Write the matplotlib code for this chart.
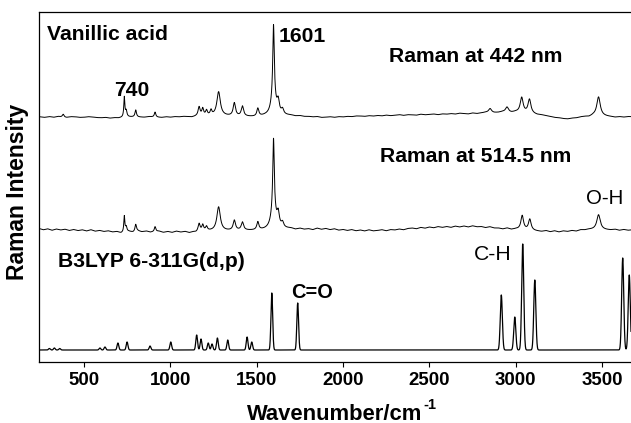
import numpy as np
import matplotlib
matplotlib.use("Agg")
import matplotlib.pyplot as plt

plt.rcParams['font.family'] = ['Liberation Sans', 'DejaVu Sans']

# ---------------- data ----------------
# peaks: centre (cm-1), height, half width
raman442_centres = [380, 734, 745, 800, 912, 1167, 1188, 1210, 1236, 1280, 1371, 1418, 1507,
                    1598, 1598, 1625, 1650, 2852, 2950, 3035, 3080, 3480]
raman442_heights = [3, 20, 6, 7, 5, 9, 7, 5, 5, 24, 13, 10, 8,
                    70, 20, 12, 5, 4, 5, 15, 14, 19]
raman442_widths = [6, 3.5, 5, 5, 5, 7, 6, 6, 6, 12, 8, 8, 7,
                   5, 15, 8, 8, 10, 10, 10, 10, 12]
raman442_base_wn = [240, 270, 300, 325, 350, 375, 400, 425, 450, 475, 500, 525, 550, 575, 600,
                    625, 650, 675, 700, 750, 800, 850, 875, 900, 950, 975,
                    1000, 1025, 1050, 1075, 1100, 1125, 1150, 1200, 1300, 1400, 1500, 1550,
                    1700, 1725, 1750, 1775, 1800, 1825, 1850, 1875, 1900, 1925, 1950, 1975,
                    2000, 2025, 2050, 2075, 2100, 2125, 2150, 2175, 2200, 2225, 2250, 2275,
                    2300, 2325, 2350, 2375, 2400, 2425, 2450, 2475, 2500, 2525, 2550, 2575,
                    2600, 2625, 2650, 2675, 2700, 2725, 2750, 2775, 2800, 2825, 2875, 2900,
                    2925, 2975, 3000, 3100, 3125, 3150, 3175, 3200, 3225, 3250, 3275, 3300,
                    3325, 3350, 3375, 3400, 3425, 3450, 3525, 3550, 3575, 3600, 3625, 3650, 3668]
raman442_base = [0.3, -0.4, 0.4, -0.3, 0.6, -0.2, -0.5, 0.3, 0.2, -0.4, -0.3, 0.3, 0, -0.6, -0.8,
                 -0.4, -1.2, -0.7, -1, 0, 0, -0.3, 0.4, 0, -0.5, 0.2,
                 -0.3, 0.3, 0, 0.5, 0.2, -0.2, 0.5, 1, 1, 0.5, 0, 1,
                 1.5, 0.8, 1.2, 0.4, 0.5, 0.0, 0.4, -0.5, -0.3, 0.2, -0.4, 0.3,
                 0, 0.6, 0.3, 1.0, 1, 0.6, 1.3, 0.9, 1.5, 1.1, 1.9, 1.3,
                 1.8, 2.4, 1.6, 2.3, 2.2, 1.8, 2.8, 2.2, 2.5, 3.0, 2.3, 3.1,
                 2.8, 3.4, 2.9, 3.8, 3.5, 3.0, 4.0, 3.4, 4.0, 4.6, 4.2, 4.5,
                 5.2, 4.4, 5, 3, 2.2, 2, 1.2, 0.5, -0.5, -0.8, -1.6, -2,
                 -1.2, -1, 0, 0.5, 0.2, 1.5, 0.6, 0.3, -0.3, 0.3, -0.2, 0.4, 0.3]

raman514_centres = [734, 745, 800, 912, 1167, 1188, 1210, 1280, 1371, 1418, 1507,
                    1598, 1598, 1625, 1650, 3038, 3082, 3480]
raman514_heights = [16, 5, 7, 5, 8, 6, 4, 24, 10, 8, 8,
                    70, 20, 13, 5, 14, 11, 15]
raman514_widths = [3.5, 5, 5, 5, 7, 6, 6, 12, 8, 8, 7,
                   5, 16, 8, 8, 9, 9, 12]
raman514_base_wn = [240, 265, 290, 315, 340, 365, 390, 415, 440, 465, 490, 515, 540, 565, 590,
                    615, 640, 665, 690, 715, 760, 785, 810, 835, 860, 885, 935, 960, 985,
                    1010, 1035, 1060, 1085, 1110, 1135, 1150, 1200, 1300, 1400, 1500,
                    1700, 1725, 1750, 1775, 1800, 1825, 1850, 1875, 1900, 1925, 1950, 1975,
                    2000, 2025, 2050, 2075, 2100, 2125, 2150, 2175, 2200, 2225, 2250, 2275,
                    2300, 2325, 2350, 2375, 2400, 2425, 2450, 2475, 2500, 2525, 2550, 2575,
                    2600, 2625, 2650, 2675, 2700, 2725, 2750, 2775, 2800, 2825, 2850, 2875,
                    2900, 2925, 2950, 2975, 3000, 3150, 3175, 3200, 3225, 3250, 3275, 3300,
                    3325, 3350, 3375, 3400, 3425, 3550, 3575, 3600, 3625, 3650, 3668]
raman514_base = [1.5, 0.2, 1.2, -0.3, 1, 0, 0.8, -0.5, 0.5, -0.6, 0.2, -1, 0.3, -1.2, -0.4,
                 -1.5, -0.8, -2, -1.5, -3, -1.5, -2.2, -0.8, -1.8, -1, -2.2, -1.2, -2.4, -1.5,
                 -2.5, -1.2, -2.2, -1.5, -2.8, -2, -2.5, -1, -1, -0.5, -0.5,
                 1.5, 0.5, 1.6, 0.6, 1.2, 0.2, 1.8, 0.6, 1.5, 0.3, 1.2, -0.2,
                 0.5, -0.5, 0.4, -0.8, 0, -1, 0.2, -0.9, -0.5, 0.3, -0.8, 0.4,
                 0, 1.0, 0.2, 1.5, 2, 1.2, 2.6, 1.8, 3, 2.2, 3.4, 2.6,
                 3.5, 2.6, 3.9, 3.0, 4, 3.0, 4.2, 3.2, 3.5, 2.4, 3.3, 2.0,
                 2, 1.0, 2.0, 0.6, 1, -1.5, -0.6, -1.8, -0.8, -2, -0.9, -1.5,
                 -0.5, -1.2, 0.2, 0, 0.6, 0, 0.7, -0.4, 0.5, -0.3, 0]

calc_centres = [300, 329, 360, 593, 622, 697, 750, 883, 1003, 1153, 1178, 1220, 1242, 1273,
                1333, 1445, 1472, 1588, 1738, 2917, 2995, 3041, 3111, 3620, 3658]
calc_heights = [1.5, 2, 1.5, 2, 3, 7, 8, 4, 8, 15, 11, 7, 6, 12,
                10, 13, 8, 57, 47, 55, 33, 106, 70, 92, 75]
calc_widths = [5, 5, 5, 5, 5, 5, 5, 5, 5, 5, 5, 5, 5, 5,
               5, 5, 5, 5, 5, 6, 6, 6, 6, 6, 6]

xticks = [500, 1000, 1500, 2000, 2500, 3000, 3500]

# ---------------- layout ----------------
W, H = 631, 423
fig = plt.figure(figsize=(W / 100, H / 100), dpi=100)
ax = fig.add_axes([39 / W, 61.5 / H, 592 / W, 349.5 / H])

wn = np.arange(240, 3668.5, 0.5)


def lorentz_sum(c, h, w):
    y = np.zeros_like(wn)
    for ci, hi, wi in zip(c, h, w):
        y += hi * wi ** 2 / ((wn - ci) ** 2 + wi ** 2)
    return y


def gauss_sum(c, h, w):
    y = np.zeros_like(wn)
    for ci, hi, wi in zip(c, h, w):
        y += hi * np.exp(-0.5 * ((wn - ci) / wi) ** 2)
    return y


off_top, off_mid, off_bot = 244.5, 131.5, 11.5

y442 = off_top + np.interp(wn, raman442_base_wn, raman442_base) + \
    lorentz_sum(raman442_centres, raman442_heights, raman442_widths)
y514 = off_mid + np.interp(wn, raman514_base_wn, raman514_base) + \
    lorentz_sum(raman514_centres, raman514_heights, raman514_widths)
ycalc = off_bot + gauss_sum(calc_centres, calc_heights, calc_widths)

ax.plot(wn, y442, color='black', lw=0.7)
ax.plot(wn, y514, color='black', lw=0.7)
ax.plot(wn, ycalc, color='black', lw=0.9)

ax.set_xlim(240, 3668)
ax.set_ylim(0, 349.5)
ax.set_yticks([])
ax.set_xticks(xticks)
ax.set_xticklabels([str(t) for t in xticks], fontsize=13.4, fontweight='bold')
ax.tick_params(axis='x', direction='out', length=3.5, width=0.8, pad=4)
ax.spines['right'].set_visible(False)
for s in ['top', 'bottom', 'left']:
    ax.spines[s].set_linewidth(0.9)

fs = 15.2
ax.text(286, 321, 'Vanillic acid', fontsize=fs, fontweight='bold', ha='left', va='baseline')
ax.text(779, 266, '740', fontsize=fs, fontweight='bold', ha='center', va='baseline')
ax.text(1626, 319, '1601', fontsize=fs, fontweight='bold', ha='left', va='baseline')
ax.text(2771, 299, 'Raman at 442 nm', fontsize=fs, fontweight='bold', ha='center', va='baseline')
ax.text(2771, 199, 'Raman at 514.5 nm', fontsize=fs, fontweight='bold', ha='center', va='baseline')
ax.text(3518, 157.5, 'O-H', fontsize=14.7, ha='center', va='baseline')
ax.text(2869, 101.3, 'C-H', fontsize=fs, ha='center', va='baseline')
ax.text(1824, 63.5, 'C=O', fontsize=14.4, fontweight='bold', ha='center', va='baseline')
ax.text(352, 94.8, 'B3LYP 6-311G(d,p)', fontsize=fs, fontweight='bold', ha='left', va='baseline')

fig.text(18 / W, 1 - 191.5 / H, 'Raman Intensity', rotation=90, fontsize=16.5,
         fontweight='bold', ha='center', va='center')
fig.text(247 / W, 1 - 419.5 / H, 'Wavenumber/cm', fontsize=15.8,
         fontweight='bold', ha='left', va='baseline')
fig.text(423 / W, 1 - 409 / H, '-1', fontsize=10.5,
         fontweight='bold', ha='left', va='baseline')

fig.savefig('out.png', dpi=100)
